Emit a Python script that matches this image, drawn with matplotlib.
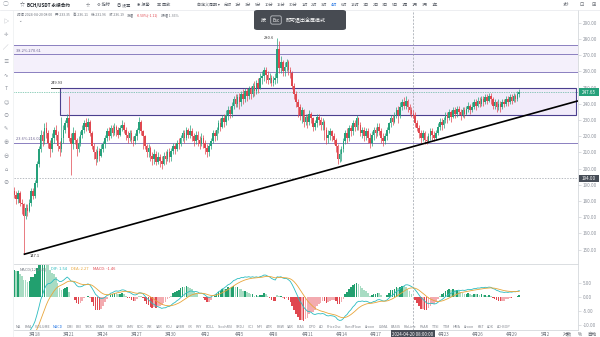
"""
BCH/USDT 4h candle chart with MACD, rebuilt from an exchange screenshot.
"""
import matplotlib

matplotlib.use("Agg")
import matplotlib.pyplot as plt
import numpy as np
from matplotlib.patches import FancyBboxPatch, Rectangle

plt.rcParams["font.family"] = ["Noto Sans CJK SC", "DejaVu Sans"]
plt.rcParams["axes.unicode_minus"] = False

W, H = 600, 337
UP = "#26a17b"
DOWN = "#e0474f"
GREY = "#8c919b"
FIB = "#8a7fc0"

# 4h candles, first one 3/16 04:00, last one 4/29 16:00 (6 per day)
OPEN0 = 186.0
close = [
    184, 181, 185, 179, 178,  # 3/16
    171, 176, 174, 179, 186, 183,  # 3/17
    191, 203, 212, 221, 217, 225,  # 3/18
    222, 216, 212, 219, 224, 221,  # 3/19
    214, 212, 219, 224, 228, 231,  # 3/20
    219, 215, 222, 218, 212, 216,  # 3/21
    221, 224, 228, 226, 229, 222,  # 3/22
    214, 210, 206, 211, 208, 212,  # 3/23
    215, 219, 223, 220, 225, 222,  # 3/24
    226, 224, 221, 225, 227, 224,  # 3/25
    221, 219, 222, 218, 217, 220,  # 3/26
    224, 229, 223, 220, 214, 210,  # 3/27
    213, 208, 206, 209, 204, 207,  # 3/28
    205, 203, 208, 206, 210, 207,  # 3/29
    211, 214, 212, 216, 215, 219,  # 3/30
    222, 219, 224, 221, 223, 220,  # 3/31
    217, 221, 218, 215, 219, 216,  # 4/1
    213, 210, 214, 217, 222, 220,  # 4/2
    224, 228, 226, 231, 229, 233,  # 4/3
    236, 234, 239, 243, 240, 244,  # 4/4
    241, 246, 243, 248, 245, 249,  # 4/5
    246, 251, 248, 253, 250, 256,  # 4/6
    257, 261, 258, 255, 256, 253,  # 4/7
    255, 256, 274, 262, 266, 260,  # 4/8
    263, 266, 261, 259, 251, 246,  # 4/9
    241, 238, 233, 236, 229, 232,  # 4/10
    229, 234, 231, 226, 228, 232,  # 4/11
    230, 227, 229, 224, 219, 221,  # 4/12
    223, 220, 218, 214, 206, 209,  # 4/13
    212, 217, 222, 219, 225, 223,  # 4/14
    228, 226, 231, 227, 222, 224,  # 4/15
    220, 223, 219, 216, 221, 224,  # 4/16
    222, 226, 223, 219, 217, 220,  # 4/17
    224, 228, 231, 229, 233, 236,  # 4/18
    233, 238, 241, 239, 242, 238,  # 4/19
    236, 234, 233, 228, 225, 222,  # 4/20
    219, 222, 218, 217, 220, 223,  # 4/21
    221, 219, 222, 226, 229, 227,  # 4/22
    230, 233, 231, 235, 232, 236,  # 4/23
    234, 237, 235, 233, 236, 234,  # 4/24
    237, 239, 236, 238, 241, 239,  # 4/25
    242, 240, 243, 241, 244, 242,  # 4/26
    245, 243, 239, 241, 238, 240,  # 4/27
    238, 241, 240, 243, 241, 244,  # 4/28
    242, 245, 243, 246, 247.65,  # 4/29
]
high = [
    189, 186, 187, 186, 181,
    179, 178, 178, 181, 188, 188,
    193, 205, 214, 224, 223, 228,
    229, 224, 218, 222, 226, 227,
    223, 217, 232, 227, 230, 234,
    245, 222, 226, 224, 219, 220,
    223, 227, 230, 231, 231, 230,
    223, 216, 212, 214, 213, 215,
    217, 221, 225, 226, 227, 227,
    228, 227, 226, 227, 230, 229,
    226, 223, 224, 224, 220, 222,
    225, 232, 230, 224, 221, 215,
    215, 214, 210, 212, 211, 210,
    209, 208, 210, 211, 212, 213,
    213, 216, 216, 218, 219, 221,
    224, 224, 226, 225, 227, 225,
    222, 223, 223, 220, 222, 221,
    218, 215, 216, 219, 224, 224,
    226, 230, 231, 233, 234, 236,
    239, 239, 241, 245, 246, 246,
    247, 248, 249, 250, 250, 251,
    251, 253, 254, 255, 256, 259,
    260, 263, 263, 260, 259, 258,
    257, 259, 280.6, 279, 269.5, 267,
    266, 268, 267, 263, 260, 253,
    248, 243, 240, 238, 237, 234,
    234, 236, 235, 232, 230, 234,
    234, 232, 231, 230, 226, 224,
    225, 224, 222, 219, 215, 212,
    214, 219, 224, 225, 227, 227,
    230, 230, 233, 232, 229, 226,
    226, 225, 225, 222, 223, 226,
    226, 228, 228, 225, 222, 222,
    226, 229, 233, 233, 235, 238,
    239, 241, 243, 244, 245, 243,
    240, 238, 236, 235, 230, 227,
    224, 224, 223, 220, 222, 225,
    225, 223, 224, 228, 231, 231,
    232, 235, 235, 237, 236, 238,
    238, 239, 239, 237, 238, 238,
    239, 241, 240, 241, 243, 243,
    244, 244, 245, 245, 246, 246,
    247, 247, 244, 243, 242, 243,
    242, 243, 243, 245, 245, 246,
    246, 247, 246, 248, 249,
]
low = [
    182, 178, 179, 177, 172,
    147.1, 169, 171, 173, 177, 181,
    182, 189, 201, 210, 214, 215,
    219, 213, 207, 210, 216, 218,
    211, 208, 210, 216, 222, 226,
    217, 196, 212, 215, 208, 210,
    214, 219, 222, 223, 224, 220,
    212, 206, 202, 204, 205, 207,
    210, 213, 217, 218, 219, 220,
    221, 220, 219, 220, 223, 222,
    218, 216, 217, 216, 214, 215,
    218, 222, 221, 212, 212, 207,
    207, 205, 202, 203, 202, 203,
    201, 200, 202, 203, 205, 204,
    205, 209, 209, 211, 212, 214,
    217, 216, 218, 219, 219, 217,
    214, 215, 214, 212, 214, 213,
    209, 207, 208, 212, 216, 217,
    218, 222, 223, 225, 226, 227,
    230, 231, 232, 237, 238, 238,
    237, 239, 240, 241, 242, 243,
    243, 244, 245, 246, 247, 249,
    252, 254, 253, 252, 253, 251,
    251, 252, 253, 259, 259, 257,
    257, 260, 258, 256, 249, 243,
    238, 232, 230, 228, 226, 227,
    225, 227, 228, 223, 224, 226,
    227, 224, 224, 218, 215, 216,
    218, 217, 215, 210, 203, 204,
    205, 210, 215, 216, 217, 220,
    221, 223, 224, 224, 220, 219,
    217, 218, 216, 213, 214, 218,
    219, 220, 221, 216, 214, 215,
    218, 222, 226, 227, 228, 231,
    228, 231, 236, 237, 237, 235,
    233, 232, 231, 226, 223, 219,
    216, 217, 215, 215.5, 216, 218,
    218, 217, 218, 221, 224, 224,
    225, 228, 228, 230, 229, 231,
    231, 232, 233, 230, 232, 231,
    233, 235, 234, 235, 237, 236,
    238, 238, 239, 239, 240, 240,
    241, 240, 237, 237, 235, 236,
    235, 237, 238, 239, 239, 240,
    240, 241, 241, 242, 244,
]

# MACD state carried in from before the visible range
EMA12_SEED, EMA26_SEED, DEA_SEED = 188.0, 207.0, -24.0

# drawn objects
fib_levels = [276.3, 270.61, 259.9, 216.02]
box_top, box_bottom = 249.93, 233.4
last_price, cross_price = 247.65, 194.0
trend_low, trend_touch = (1.0, 147.1), (36.667, 216.3)  # (day, price)
cross_day = 35.333  # 2024-04-20 08:00

date_days = [2, 5, 8, 11, 14, 17, 20, 23, 26, 29, 32, 38, 41, 44, 47]
date_labels = ["3月18", "3月21", "3月24", "3月27", "3月30", "4月2", "4月5", "4月8",
               "4月11", "4月14", "4月17", "4月23", "4月26", "4月29", "5月2"]

periods = ["自定义周期 ▾", "分时", "1分", "3分", "5分", "10分", "15分", "30分",
           "1时", "2时", "3时", "4时", "6时", "12时", "1日", "2日", "3日", "5日",
           "1周", "1月", "3月", "1年"]
indicators = ["MA", "EMA", "VOLUME", "MACD", "DMI", "BBI", "TRIX", "BRAR", "VR", "OBV",
              "EMV", "ROC", "WR", "SAR", "KDJ", "ARBR", "CR", "PSY", "BOLL", "StochRSI",
              "SKDJ", "CCI", "MFI", "ATR", "BBW", "SAR", "BIAS", "DPO", "AO", "PriceOsc",
              "FundFlow", "Aroon", "LSMA", "BASIS", "FibLine", "PSAR", "TTSI", "TTM",
              "HMA", "Aroon", "KST", "ADX", "AO-BOP"]

# ---------------------------------------------------------------------------
c = np.array(close, dtype=float)
o = np.r_[OPEN0, c[:-1]]
hi = np.maximum(np.array(high, dtype=float), np.maximum(o, c))
lo = np.minimum(np.array(low, dtype=float), np.minimum(o, c))
t = 1 / 6 + np.arange(len(c)) / 6  # days since 3/16 00:00

dif = np.empty_like(c)
dea = np.empty_like(c)
e12, e26, d9 = EMA12_SEED, EMA26_SEED, DEA_SEED
for k, v in enumerate(c):
    e12 += (v - e12) * 2 / 13
    e26 += (v - e26) * 2 / 27
    dif[k] = e12 - e26
    d9 += (dif[k] - d9) * 2 / 10
    dea[k] = d9
hist = 2 * (dif - dea)


def px_box(left, top, right, bottom):
    return [left / W, 1 - bottom / H, (right - left) / W, (bottom - top) / H]


def ftext(x, y, s, **kw):
    kw.setdefault("fontsize", 3.3)
    kw.setdefault("color", GREY)
    kw.setdefault("va", "center")
    return fig.text(x / W, 1 - y / H, s, **kw)


def text_row(x, y, items, gap, **kw):
    rend = fig.canvas.get_renderer()
    for s, cc in items:
        tt = ftext(x, y, s, color=cc, **kw)
        x += tt.get_window_extent(rend).width + gap
    return x


fig = plt.figure(figsize=(W / 100, H / 100), dpi=100, facecolor="white")
ax = fig.add_axes(px_box(14, 10, 578, 264))
axm = fig.add_axes(px_box(14, 265, 578, 330), sharex=ax)

x0, x1 = (14 - 12.3) / 11.35, (578 - 12.3) / 11.35
ax.set_xlim(x0, x1)
ax.set_ylim(141.17, 297.96)

# drawings behind candles
ax.axhspan(fib_levels[2], fib_levels[0], color="#f4f0fb", lw=0, zorder=0)
for lv in fib_levels:
    ax.axhline(lv, color=FIB, lw=0.7, zorder=1)
ax.text(0.35, 270.61 + 1.0, "38.2% 270.61", fontsize=2.9, color="#6b6390", va="bottom")
ax.text(0.35, 216.02 + 1.0, "23.6% 216.02", fontsize=2.9, color="#6b6390", va="bottom")

bx0, bx1 = (60 - 12.3) / 11.35, (576 - 12.3) / 11.35
ax.add_patch(Rectangle((bx0, box_bottom), bx1 - bx0, box_top - box_bottom,
                       facecolor="#f1ebfa", edgecolor="#4b3f8f", lw=0.8, zorder=1))
stub = (51 - 12.3) / 11.35
ax.plot([stub, bx0], [box_top, box_top], color="#333333", lw=0.7, zorder=1)
ax.text(stub, box_top + 1.5, "249.93", fontsize=2.9, color="#333333", va="bottom")

ax.axhline(last_price, color=UP, lw=0.5, ls=(0, (1, 1.5)), zorder=2)
ax.axhline(cross_price, color="#9aa0a8", lw=0.5, ls=(0, (2, 2)), zorder=2)
ax.axvline(cross_day, color="#9aa0a8", lw=0.5, ls=(0, (3, 2)), zorder=2)
axm.axvline(cross_day, color="#9aa0a8", lw=0.5, ls=(0, (3, 2)), zorder=2)

# candles
col = np.where(c >= o, UP, DOWN)
ax.vlines(t, lo, hi, colors=col, lw=0.5, zorder=3)
ax.bar(t, np.maximum(np.abs(c - o), 0.35), bottom=np.minimum(o, c), width=0.14,
       color=col, lw=0, zorder=4)

# trend line from the low
slope = (trend_touch[1] - trend_low[1]) / (trend_touch[0] - trend_low[0])
ax.plot([trend_low[0], x1], [trend_low[1], trend_low[1] + slope * (x1 - trend_low[0])],
        color="black", lw=1.2, zorder=5, solid_capstyle="butt")

i_hi, i_lo = int(np.argmax(hi)), int(np.argmin(lo))
ax.text(t[i_hi] - 0.3, hi[i_hi], f"{hi[i_hi]:.1f}", fontsize=2.9, color="#333333",
        ha="right", va="center")
ax.text(t[i_lo] + 0.5, lo[i_lo] - 1, f"{lo[i_lo]:.1f}", fontsize=2.9, color="#333333",
        ha="left", va="center")

# price axis
ax.yaxis.tick_right()
ax.set_yticks(np.arange(150, 291, 10))
ax.set_yticklabels([f"{v:.2f}" for v in np.arange(150, 291, 10)])
ax.tick_params(axis="y", length=2, width=0.5, pad=1.5, labelsize=3.3,
               colors="#d0d3d8", labelcolor=GREY)
ax.tick_params(axis="x", bottom=False, labelbottom=False)
for s in ["top", "left"]:
    ax.spines[s].set_visible(False)
for s in ["right", "bottom"]:
    ax.spines[s].set_color("#d5d8dc")
    ax.spines[s].set_linewidth(0.6)

# MACD panel
rising = np.r_[True, np.abs(hist[1:]) >= np.abs(hist[:-1])]
hcol = np.where(hist >= 0, np.where(rising, "#22a06f", "#a8dcc3"),
                np.where(rising, "#e0474f", "#f3abb0"))
axm.bar(t, hist, width=0.14, color=hcol, lw=0, zorder=2)
axm.plot(t, dif, color="#2bbcc0", lw=0.6, zorder=3)
axm.plot(t, dea, color="#e8a53a", lw=0.6, zorder=3)
axm.set_ylim(-11.8, 11.4)
axm.yaxis.tick_right()
axm.set_yticks([5, 0, -5, -10])
axm.set_yticklabels(["5.00", "0.00", "-5.00", "-10.00"])
axm.tick_params(axis="y", length=2, width=0.5, pad=1.5, labelsize=3.3,
                colors="#d0d3d8", labelcolor=GREY)
axm.set_xticks(date_days)
axm.set_xticklabels(date_labels)
axm.tick_params(axis="x", length=0, pad=1.2, labelsize=3.2, labelcolor="#6f747d")
for s in ["top", "left"]:
    axm.spines[s].set_visible(False)
for s in ["right", "bottom"]:
    axm.spines[s].set_color("#d5d8dc")
    axm.spines[s].set_linewidth(0.6)

text_row(20, 269.5, [("MACD(12,26,9)", "#7d828b"), ("DIF: 1.54", "#2bbcc0"),
                     ("DEA: 2.27", "#e8a53a"), ("MACD: -1.46", DOWN)], 4, fontsize=2.9)

# price tags on the axis
fig.add_artist(Rectangle((579 / W, 1 - 95.5 / H), 20 / W, 7 / H,
                         transform=fig.transFigure, color=UP, lw=0))
ftext(589, 92, f"{last_price:.2f}", color="white", ha="center", fontsize=3.3)
fig.add_artist(Rectangle((579 / W, 1 - 181.5 / H), 20 / W, 7 / H,
                         transform=fig.transFigure, color="#474d57", lw=0))
ftext(589, 178, f"{cross_price:.2f}", color="white", ha="center", fontsize=3.3)

# crosshair date tag + bottom right switches
ftext(413, 334, "2024-04-20 08:00:00", color="white", ha="center", fontsize=3.2,
      bbox=dict(boxstyle="square,pad=0.25", fc="#474d57", ec="none"))
ftext(567, 334, "对数", color="#555a63", ha="center", fontsize=3.3)
ftext(580, 334, "%", color="#555a63", ha="center", fontsize=3.3)
ftext(592, 334, "自动", color="#555a63", ha="center", fontsize=3.3)

# indicator shortcut row
text_row(16, 326.5, [(n, "#2d7be5" if n == "MACD" else "#7d828b") for n in indicators],
         3.2, fontsize=2.6)

# top toolbar
fig.add_artist(plt.Line2D([0, 1], [1 - 10 / H] * 2, transform=fig.transFigure,
                          color="#e6e8eb", lw=0.5))
fig.add_artist(plt.Line2D([13 / W] * 2, [0, 1 - 10 / H], transform=fig.transFigure,
                          color="#eceef0", lw=0.5))
ftext(6, 5, "◯", fontsize=4.2, color="#9aa0a8", ha="center")
ftext(22, 5, "☆", fontsize=3.6, color="#555a63", ha="center")
ftext(27, 5, "BCH/USDT 永续合约", fontsize=3.3, color="#1e2329", weight="bold")
text_row(86, 5, [("☆", "#555a63"), ("⚙ 指标", "#555a63"), ("◎ 设置", "#555a63"),
                 ("✱ 报警", "#555a63"), ("▣ 回放", "#555a63")], 7, fontsize=3.0)
text_row(197, 5, [(p, "#2d7be5" if p == "4时" else "#555a63") for p in periods],
         3.6, fontsize=2.9)
ftext(566, 5, "3秒", fontsize=3.0, color="#555a63", ha="center")
ftext(582, 5, "⊡", fontsize=3.6, color="#555a63", ha="center")
ftext(594, 5, "⊞", fontsize=3.6, color="#555a63", ha="center")

info = [("时间 2024-04-20 08:00", "#6f747d"), ("开 233.35", "#6f747d"),
        ("高 236.11", "#6f747d"), ("低 231.96", "#6f747d"), ("收 236.19", "#6f747d"),
        ("涨幅", "#6f747d"), ("-0.50%(-1.11)", DOWN), ("振幅 1.36%", "#6f747d")]
text_row(17, 15, info, 3.0, fontsize=2.5)
ftext(20, 20.5, "⌄", fontsize=3.0, color="#6f747d", ha="center")

# left drawing toolbar
for k, g in enumerate(["▷", "✛", "╱", "≡", "∿", "T", "☺", "⊙", "✎", "⊕", "⊖", "⌂", "⊘"]):
    ftext(6, 21 + k * 13.5, g, fontsize=3.8, color="#8c919b", ha="center")

# full-screen hint overlay
fig.add_artist(FancyBboxPatch((254 / W, 1 - 30 / H), 92 / W, 20 / H,
                              boxstyle="round,pad=0,rounding_size=0.006",
                              transform=fig.transFigure, fc="#3d4149", ec="none",
                              alpha=0.95, zorder=10))
ftext(263, 20, "按", color="white", fontsize=3.6, ha="center", zorder=11)
ftext(276, 20, "Esc", color="white", fontsize=3.3, ha="center", zorder=11,
      bbox=dict(boxstyle="round,pad=0.35,rounding_size=0.3", fc="none", ec="#d0d3d8", lw=0.5))
ftext(286, 20, "即可退出全屏模式", color="white", fontsize=3.6, zorder=11)

fig.savefig("out.png", dpi=100, facecolor="white")
